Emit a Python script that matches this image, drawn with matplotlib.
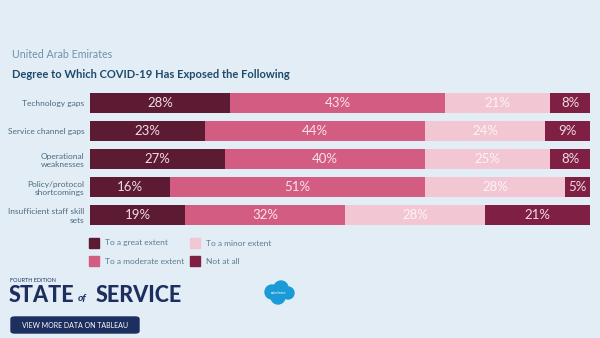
import matplotlib
matplotlib.use("Agg")
import matplotlib.pyplot as plt
import matplotlib.patches as mpatches
import numpy as np

plt.rcParams["font.family"] = ["Lato", "DejaVu Sans"]

# ── Data ────────────────────────────────────────────────────────────
categories = ["Technology gaps", "Service channel gaps", "Operational\nweaknesses",
              "Policy/protocol\nshortcomings", "Insufficient staff skill\nsets"]
great = [28, 23, 27, 16, 19]
moderate = [43, 44, 40, 51, 32]
minor = [21, 24, 25, 28, 28]
not_at_all = [8, 9, 8, 5, 21]
series_names = ["To a great extent", "To a moderate extent", "To a minor extent", "Not at all"]

BG = "#e3edf5"
COLORS = ["#5c1a33", "#d35d82", "#f2c6d3", "#7f1f44"]
TEXT_COLORS = ["#f0dce3", "#f9e3ea", "#fdf3f6", "#f0dce3"]

W, H = 600, 338
fig = plt.figure(figsize=(W / 100, H / 100), dpi=100, facecolor=BG)

# ── Bars ────────────────────────────────────────────────────────────
ax = fig.add_axes([90 / W, 1 - 229 / H, 500 / W, 140 / H])
ax.set_facecolor(BG)
y = np.arange(len(categories))
left = np.zeros(len(categories))
for vals, col, tcol in zip([great, moderate, minor, not_at_all], COLORS, TEXT_COLORS):
    vals = np.array(vals, dtype=float)
    ax.barh(y, vals, left=left, height=0.72, color=col, edgecolor="none")
    for yi, l, v in zip(y, left, vals):
        ax.text(l + v / 2, yi, f"{int(v)}%", ha="center", va="center",
                color=tcol, fontsize=9.5)
    left += vals

ax.set_xlim(0, 100)
ax.set_ylim(len(categories) - 0.5, -0.5)
ax.set_xticks([])
ax.set_yticks(y)
ax.set_yticklabels(categories, fontsize=6, color="#4d6b80", linespacing=1.3)
ax.tick_params(axis="y", length=0, pad=4)
for s in ax.spines.values():
    s.set_visible(False)

# ── Titles ──────────────────────────────────────────────────────────
fig.text(12 / W, 1 - 55 / H, "United Arab Emirates", fontsize=7.7, color="#6d93a9",
         va="center", ha="left")
fig.text(12 / W, 1 - 75 / H, "Degree to Which COVID-19 Has Exposed the Following",
         fontsize=8.0, color="#1e4a6b", fontweight="bold", va="center", ha="left")

# ── Legend ──────────────────────────────────────────────────────────
leg_pos = [(89, 243), (89, 261), (190, 243), (190, 261)]
for (lx, ly), name, col in zip(leg_pos, series_names, COLORS):
    fig.patches.append(mpatches.Rectangle((lx / W, 1 - (ly + 5) / H), 10 / W, 10 / H,
                                          transform=fig.transFigure, color=col))
    fig.text((lx + 16) / W, 1 - ly / H, name, fontsize=6, color="#5a7d92",
             va="center", ha="left")

# ── Footer ──────────────────────────────────────────────────────────
NAVY = "#1c2f5e"
fig.text(10 / W, 1 - 281 / H, "FOURTH EDITION", fontsize=4, color=NAVY,
         va="center", ha="left")
fig.text(9 / W, 1 - 295 / H, "STATE", fontsize=15.5, color=NAVY, fontweight="black",
         va="center", ha="left")
fig.text(78 / W, 1 - 298 / H, "of", fontsize=7.5, color=NAVY, style="italic",
         fontweight="bold", va="center", ha="left")
fig.text(96 / W, 1 - 295 / H, "SERVICE", fontsize=15.5, color=NAVY, fontweight="black",
         va="center", ha="left")

btn = mpatches.FancyBboxPatch((11 / W, 1 - 333 / H), 128 / W, 16 / H,
                              boxstyle="round,pad=0,rounding_size=0.006",
                              transform=fig.transFigure, color=NAVY)
fig.patches.append(btn)
fig.text(75 / W, 1 - 325 / H, "VIEW MORE DATA ON TABLEAU", fontsize=5, color="white",
         va="center", ha="center")

# salesforce cloud
for cx, cy, r in [(272, 292, 7), (281, 288, 7), (288, 293, 6), (278, 297, 7)]:
    fig.patches.append(mpatches.Ellipse((cx / W, 1 - cy / H), 2 * r / W, 2 * r / H,
                                        transform=fig.transFigure, color="#1a9bd7"))
fig.text(279 / W, 1 - 293 / H, "salesforce", fontsize=2.5, color="white",
         va="center", ha="center")

fig.savefig("out.png", dpi=100, facecolor=BG)
